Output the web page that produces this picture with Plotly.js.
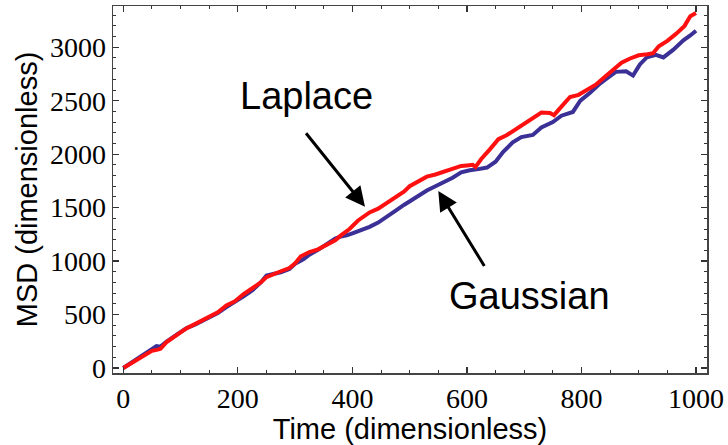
<!DOCTYPE html>
<html>
<head>
<meta charset="utf-8">
<script src="https://cdn.plot.ly/plotly-3.0.1.min.js"></script>
<style>html,body{margin:0;padding:0;background:#fff;}#chart{width:728px;height:445px;}</style>
</head>
<body>
<div id="chart"></div>
<script>
// Laplace (red)
const laplaceT = [0,10,20,30,40,50,60,65,75,90,100,110,125,140,155,165,180,195,210,225,240,250,262,275,290,300,310,325,340,355,370,380,395,410,420,430,445,460,475,490,500,515,530,545,560,575,590,600,610,615,625,640,655,670,685,700,715,730,745,752,765,780,795,810,825,840,855,870,885,900,915,925,935,950,965,980,990,995,1000];
const laplaceMSD = [0,30,62,92,125,160,172,180,240,298,330,370,410,450,500,520,585,625,690,745,800,850,872,905,935,980,1045,1085,1110,1150,1195,1240,1300,1380,1420,1455,1490,1545,1590,1650,1700,1750,1790,1810,1835,1865,1890,1895,1900,1880,1955,2045,2140,2180,2230,2280,2330,2390,2385,2365,2445,2535,2555,2600,2650,2720,2785,2855,2895,2925,2935,2945,3010,3060,3125,3200,3290,3310,3320];
// Gaussian (blue)
const gaussT = [0,10,20,30,40,50,58,65,75,90,100,110,125,140,155,165,180,195,210,225,240,250,262,275,290,300,315,325,340,355,370,380,390,400,415,430,445,460,475,490,500,515,530,545,560,575,590,605,620,635,650,663,680,695,715,730,750,765,785,798,815,830,845,860,878,890,902,914,930,943,960,978,990,1000];
const gaussMSD = [0,35,70,105,140,185,205,200,245,300,335,372,405,445,490,515,570,615,670,725,800,865,880,895,925,975,1020,1060,1105,1160,1210,1230,1240,1260,1290,1320,1360,1420,1470,1525,1560,1610,1660,1700,1735,1780,1830,1850,1860,1875,1930,2020,2110,2160,2180,2250,2300,2360,2395,2500,2575,2650,2710,2770,2775,2735,2840,2905,2930,2905,2975,3065,3110,3155];

const xTicks = [0,200,400,600,800,1000];
const yTicks = [0,500,1000,1500,2000,2500,3000];

const labels = {laplace: 'Laplace', gauss: 'Gaussian'};
const labelPos = {laplace: [320, 2544], gauss: [710, 673]};
const arrowTip = {laplace: [422, 1509], gauss: [550, 1656]};
const arrowTail = {laplace: [317, 2210], gauss: [632, 940]};

const traces = [
  {x: gaussT, y: gaussMSD, mode: 'lines', line: {color: '#3a3096', width: 4}, hoverinfo: 'skip'},
  {x: laplaceT, y: laplaceMSD, mode: 'lines', line: {color: '#ff1010', width: 4}, hoverinfo: 'skip'}
];

const annotations = [];
for (const k of ['laplace', 'gauss']) {
  annotations.push({
    x: labelPos[k][0], y: labelPos[k][1], xref: 'x', yref: 'y', text: labels[k], showarrow: false,
    font: {family: 'Liberation Sans', size: 38, color: '#000'},
    xanchor: 'center', yanchor: 'middle'
  });
  annotations.push({
    x: arrowTip[k][0], y: arrowTip[k][1], xref: 'x', yref: 'y',
    ax: arrowTail[k][0], ay: arrowTail[k][1], axref: 'x', ayref: 'y',
    text: '', showarrow: true, arrowhead: 2, arrowsize: 1.3, arrowwidth: 3, arrowcolor: '#000'
  });
}

const layout = {
  width: 728, height: 445,
  margin: {l: 113, r: 21, t: 6, b: 72, pad: 0},
  paper_bgcolor: '#fff', plot_bgcolor: '#fff',
  showlegend: false,
  xaxis: {
    range: [-18, 1019.2], tickvals: xTicks, ticktext: xTicks.map(String),
    ticks: 'inside', ticklen: 6, tickwidth: 1.2, tickcolor: '#333',
    minor: {dtick: 50, tick0: 0, ticks: 'inside', ticklen: 3, tickwidth: 1, tickcolor: '#333'},
    showline: true, linecolor: '#444', linewidth: 1.5, mirror: 'ticks',
    showgrid: false, zeroline: false,
    tickfont: {family: 'Liberation Serif', size: 28, color: '#000'},
    title: {text: 'Time (dimensionless)', font: {family: 'Liberation Sans', size: 29, color: '#000'}, standoff: 4}
  },
  yaxis: {
    range: [-46.8, 3386], tickvals: yTicks, ticktext: yTicks.map(String),
    ticks: 'inside', ticklen: 6, tickwidth: 1.2, tickcolor: '#333',
    minor: {dtick: 100, tick0: 0, ticks: 'inside', ticklen: 3, tickwidth: 1, tickcolor: '#333'},
    showline: true, linecolor: '#444', linewidth: 1.5, mirror: 'ticks',
    showgrid: false, zeroline: false,
    tickfont: {family: 'Liberation Serif', size: 28, color: '#000'},
    title: {text: 'MSD (dimensionless)', font: {family: 'Liberation Sans', size: 29, color: '#000'}, standoff: 4}
  },
  annotations: annotations
};

Plotly.newPlot('chart', traces, layout, {staticPlot: true, displayModeBar: false});
</script>
</body>
</html>
